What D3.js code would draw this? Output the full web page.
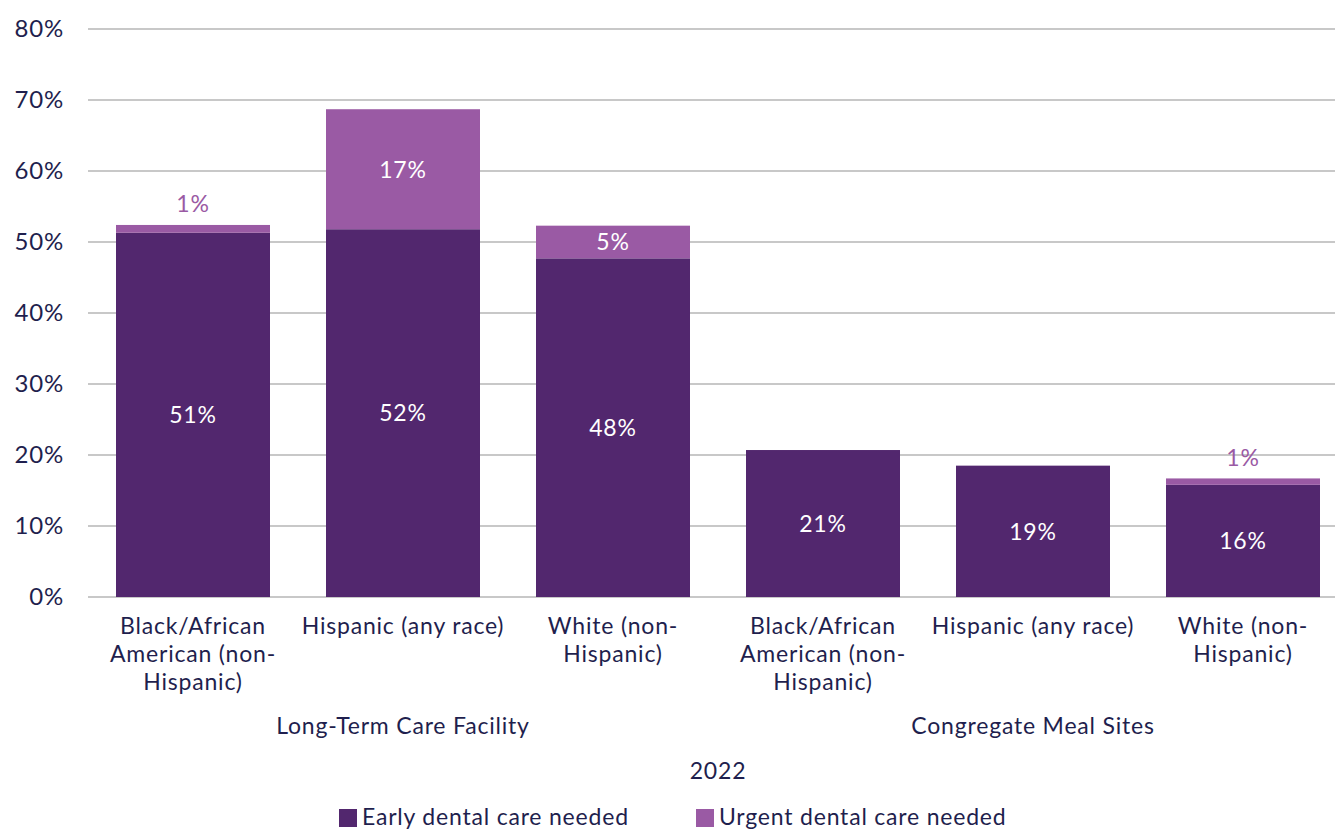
<!DOCTYPE html>
<html>
<head>
<meta charset="utf-8">
<script src="https://cdn.jsdelivr.net/npm/d3@7"></script>
<style>
  html, body { margin: 0; padding: 0; background: #fff; }
  svg { display: block; font-family: Lato, "Open Sans", sans-serif; letter-spacing: 0.8px; }
</style>
</head>
<body>
<svg id="chart" width="1335" height="831"></svg>
<script>
// Race/ethnicity categories, grouped by setting
const categories = [
  "Black/African American (non-Hispanic)|LTC",
  "Hispanic (any race)|LTC",
  "White (non-Hispanic)|LTC",
  "Black/African American (non-Hispanic)|CMS",
  "Hispanic (any race)|CMS",
  "White (non-Hispanic)|CMS"
];
const categoryLabels = [
  ["Black/African", "American (non-", "Hispanic)"],
  ["Hispanic (any race)"],
  ["White (non-", "Hispanic)"],
  ["Black/African", "American (non-", "Hispanic)"],
  ["Hispanic (any race)"],
  ["White (non-", "Hispanic)"]
];
const groups = ["Long-Term Care Facility", "Congregate Meal Sites"];
const groupSizes = [3, 3];
const yearLabel = "2022";

// Percent of older adults needing dental care
const earlyCare  = [51.3, 51.8, 47.7, 20.7, 18.5, 15.8];
const urgentCare = [1.1, 16.9, 4.6, 0, 0, 0.9];

const seriesNames = ["Early dental care needed", "Urgent dental care needed"];
const yTicks = [0, 10, 20, 30, 40, 50, 60, 70, 80];

const colors = { early: "#52276e", urgent: "#9a5aa4" };
const textColor = "#1f1f4e";
const fontSize = "23px";

const svg = d3.select("#chart");
const margin = { left: 88, right: 1348, top: 29, bottom: 597 };

const x = d3.scaleBand()
  .domain(categories)
  .range([margin.left, margin.right])
  .paddingInner(56 / 210)
  .paddingOuter(28 / 210);

const y = d3.scaleLinear().domain([0, 80]).range([margin.bottom, margin.top]);

// gridlines
svg.append("g").selectAll("line").data(yTicks).join("line")
  .attr("x1", margin.left).attr("x2", 1335)
  .attr("y1", d => y(d)).attr("y2", d => y(d))
  .attr("stroke", "#c8c8c8").attr("stroke-width", 2);

// y-axis labels
const yAxis = svg.append("g")
  .attr("transform", `translate(${margin.left},0)`)
  .call(d3.axisLeft(y).tickValues(yTicks).tickFormat(d => d + "%").tickSize(0).tickPadding(24));
yAxis.select(".domain").remove();
yAxis.selectAll("text")
  .attr("fill", textColor)
  .style("font-size", "24px")
  .style("font-family", "Lato, sans-serif");

// stacked data
const rows = categories.map((c, i) => ({ cat: c, early: earlyCare[i], urgent: urgentCare[i] }));
const stack = d3.stack().keys(["early", "urgent"])(rows);

const fmt = v => Math.round(v) + "%";

stack.forEach(layer => {
  const key = layer.key;
  svg.append("g").selectAll("rect")
    .data(layer.filter(d => d[1] - d[0] > 0))
    .join("rect")
    .attr("x", d => x(d.data.cat))
    .attr("width", x.bandwidth())
    .attr("y", d => y(d[1]))
    .attr("height", d => y(d[0]) - y(d[1]))
    .attr("fill", colors[key]);
});

// value labels
const labelG = svg.append("g").style("font-size", "23px").attr("text-anchor", "middle");
stack.forEach(layer => {
  layer.forEach(d => {
    const v = d[1] - d[0];
    if (v <= 0) return;
    const cx = x(d.data.cat) + x.bandwidth() / 2;
    const segH = y(d[0]) - y(d[1]);
    if (segH >= 26) {
      labelG.append("text")
        .attr("x", cx).attr("y", (y(d[0]) + y(d[1])) / 2)
        .attr("dy", "0.36em")
        .attr("fill", "#ffffff")
        .text(fmt(v));
    } else {
      labelG.append("text")
        .attr("x", cx).attr("y", y(d[1]) - 21)
        .attr("dy", "0.36em")
        .attr("fill", colors.urgent)
        .text(fmt(v));
    }
  });
});

// category labels
const catG = svg.append("g").style("font-size", fontSize).attr("fill", textColor).attr("text-anchor", "middle");
categories.forEach((c, i) => {
  const cx = x(c) + x.bandwidth() / 2;
  const t = catG.append("text").attr("x", cx).attr("y", 634);
  categoryLabels[i].forEach((line, j) => {
    t.append("tspan").attr("x", cx).attr("dy", j === 0 ? 0 : 28).text(line);
  });
});

// group labels
let start = 0;
groups.forEach((g, gi) => {
  const first = categories[start];
  const last = categories[start + groupSizes[gi] - 1];
  const gx0 = x(first) - x.step() * x.paddingInner() / 2;
  const gx1 = x(last) + x.bandwidth() + x.step() * x.paddingInner() / 2;
  svg.append("text")
    .attr("x", (gx0 + gx1) / 2).attr("y", 734)
    .attr("text-anchor", "middle").attr("fill", textColor)
    .style("font-size", fontSize)
    .text(g);
  start += groupSizes[gi];
});

svg.append("text")
  .attr("x", (margin.left + margin.right) / 2).attr("y", 779)
  .attr("text-anchor", "middle").attr("fill", textColor)
  .style("font-size", fontSize)
  .text(yearLabel);

// legend
const legendItems = [
  { name: seriesNames[0], color: colors.early, x: 339 },
  { name: seriesNames[1], color: colors.urgent, x: 696 }
];
const lg = svg.append("g");
legendItems.forEach(it => {
  lg.append("rect").attr("x", it.x).attr("y", 809).attr("width", 18).attr("height", 18).attr("fill", it.color);
  lg.append("text").attr("x", it.x + 23).attr("y", 825)
    .attr("fill", textColor).style("font-size", fontSize).text(it.name);
});
</script>
</body>
</html>
